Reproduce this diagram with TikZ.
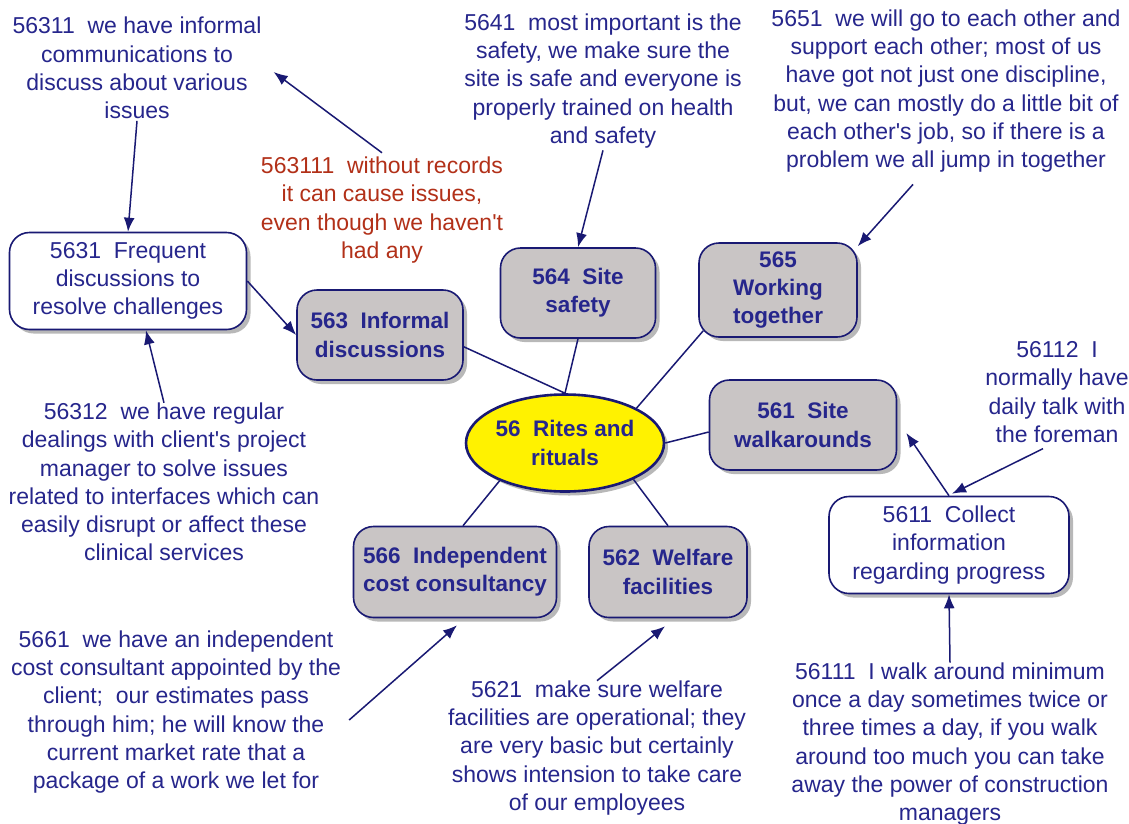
\documentclass[tikz,border=0pt]{standalone}
\usepackage{fontspec}
\setmainfont{Liberation Sans}
\usetikzlibrary{arrows.meta,shadows,shapes.geometric,calc}
\definecolor{navy}{RGB}{25,25,115}
\definecolor{txtblue}{RGB}{38,38,140}
\definecolor{txtred}{RGB}{178,48,24}
\definecolor{boxgray}{RGB}{201,197,197}
\newcommand{\apos}{\textquotesingle}
\begin{document}
\begin{tikzpicture}[x=1pt,y=-1pt,
  shade/.style={drop shadow={shadow xshift=4pt,shadow yshift=-4pt,fill=black!55,opacity=0.5}},
  box/.style={draw=navy,line width=1.6pt,rounded corners=20pt,fill=boxgray,shade,
    align=center,inner sep=0pt,text=txtblue,font=\fontsize{22.5}{28.2}\selectfont\bfseries},
  wbox/.style={box,fill=white,font=\fontsize{23}{28.2}\selectfont},
  note/.style={align=center,inner sep=2pt,text=txtblue,font=\fontsize{23}{28.2}\selectfont},
  conn/.style={draw=navy,line width=1.5pt},
  arr/.style={conn,-{Latex[length=14pt,width=11pt]}}]
\useasboundingbox[fill=white] (0,0) rectangle (1129,823);

% central topic
\node[ellipse,draw=navy,line width=2.6pt,fill=yellow,shade,minimum width=198pt,minimum height=97pt,
  inner sep=0pt,align=center,text=txtblue,font=\fontsize{22.5}{28.2}\selectfont\bfseries]
  (e56) at (565,443) {56~~Rites and\\rituals};

% main topics
\node[box,minimum width=166pt,minimum height=90pt] (b563) at (380,335) {563~~Informal\\discussions};
\node[box,minimum width=155pt,minimum height=90pt] (b564) at (578,293) {564~~Site\\safety};
\node[box,minimum width=158pt,minimum height=94pt] (b565) at (778,290) {565\\Working\\together};
\node[box,minimum width=187pt,minimum height=90pt] (b561) at (803,425) {561~~Site\\walkarounds};
\node[box,minimum width=203pt,minimum height=91pt] (b566) at (455,572) {566~~Independent\\cost consultancy};
\node[box,minimum width=158pt,minimum height=91pt] (b562) at (668,572) {562~~Welfare\\facilities};

% sub topics
\node[wbox,minimum width=237pt,minimum height=97pt] (b5631) at (128,281) {5631~~Frequent\\discussions to\\resolve challenges};
\node[wbox,minimum width=240pt,minimum height=97pt] (b5611) at (949,545) {5611~~Collect\\information\\regarding progress};

% statements
\node[note] (t56311) at (137,68) {56311~~we have informal\\communications to\\discuss about various\\issues};
\node[note,text=txtred] (t563111) at (382,210) {563111~~without records\\it can cause issues,\\even though we haven\apos t\\had any};
\node[note] (t5641) at (603,81) {5641~~most important is the\\safety, we make sure the\\site is safe and everyone is\\properly trained on health\\and safety};
\node[note] (t5651) at (946,91) {5651~~we will go to each other and\\support each other; most of us\\have got not just one discipline,\\but, we can mostly do a little bit of\\each other\apos s job, so if there is a\\problem we all jump in together};
\node[note] (t56312) at (164,482) {56312~~we have regular\\dealings with client\apos s project\\manager to solve issues\\related to interfaces which can\\easily disrupt or affect these\\clinical services};
\node[note] (t56112) at (1057,392) {56112~~I\\normally have\\daily talk with\\the foreman};
\node[note] (t5661) at (176,712) {5661~~we have an independent\\cost consultant appointed by the\\client;~~our estimates pass\\through him; he will know the\\current market rate that a\\package of a work we let for};
\node[note] (t5621) at (597,748) {5621~~make sure welfare\\facilities are operational; they\\are very basic but certainly\\shows intension to take care\\of our employees};
\node[note] (t56111) at (950,744) {56111~~I walk around minimum\\once a day sometimes twice or\\three times a day, if you walk\\around too much you can take\\away the power of construction\\managers};

% links from the central topic
\draw[conn] (b563.-8) -- (e56.north);
\draw[conn] (b564.south) -- (e56.north);
\draw[conn] ($(b565.south west)+(5,-7)$) -- (e56.26);
\draw[conn] ($(b561.west)+(0,7)$) -- (e56.east);
\draw[conn] (e56.210) -- ($(b566.north)+(8,0)$);
\draw[conn] (e56.-28) -- (b562.north);

% arrows
\draw[arr] ($(t563111.north)+(0,-2)$) -- ($(t56311.east)+(10,4)$);
\draw[arr] (t56311.south) -- (b5631.north);
\draw[arr] (b5631.east) -- (b563.west);
\draw[arr] ($(t56312.north)+(0,2)$) -- (b5631.-70);
\draw[arr] (t5641.south) -- (b564.north);
\draw[arr] ($(t5651.south)+(-33,10)$) -- ($(b565.north east)+(0,4)$);
\draw[arr] ($(t56112.south)+(-14,4)$) -- ($(b5611.north)+(3,-2)$);
\draw[arr] (b5611.north) -- ($(b561.east)+(9,8)$);
\draw[arr] ($(t56111.north)+(0,2)$) -- (b5611.south);
\draw[arr] ($(t5661.east)+(6,8)$) -- ($(b566.south)+(2,7)$);
\draw[arr] ($(t5621.north)+(0,2)$) -- ($(b562.south)+(-3,8)$);
\end{tikzpicture}
\end{document}
